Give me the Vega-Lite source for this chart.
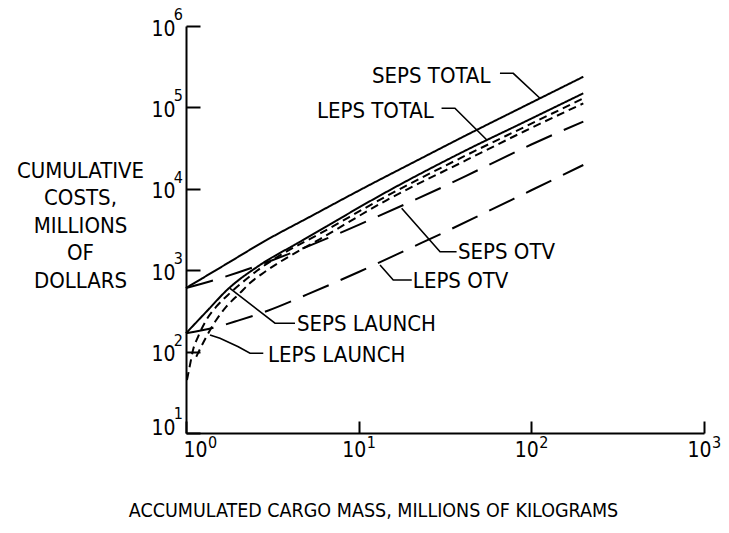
{
  "$schema": "https://vega.github.io/schema/vega-lite/v6.json",
  "autosize": {"type": "none"},
  "padding": {"left": 186, "top": 26, "right": 25, "bottom": 100},
  "width": 518,
  "height": 407,
  "background": "white",
  "config": {
    "view": {"stroke": null},
    "font": "DejaVu Sans Condensed, Liberation Sans, sans-serif",
    "axis": {
      "grid": false,
      "domainColor": "black",
      "domainWidth": 2,
      "tickColor": "black",
      "tickWidth": 2,
      "labelColor": "black",
      "titleColor": "black",
      "labelFont": "DejaVu Sans Condensed, Liberation Sans, sans-serif",
      "titleFont": "DejaVu Sans Condensed, Liberation Sans, sans-serif",
      "titleFontWeight": "normal",
      "labelFontSize": 21,
      "titleFontSize": 22,
      "labelOverlap": false,
      "labelFlush": false
    }
  },
  "datasets": {
    "curves": [
      {"series": "SEPS TOTAL", "style": "solid", "x": 1, "y": 604},
      {"series": "SEPS TOTAL", "style": "solid", "x": 1.705, "y": 1186},
      {"series": "SEPS TOTAL", "style": "solid", "x": 2.93, "y": 2350},
      {"series": "SEPS TOTAL", "style": "solid", "x": 5.22, "y": 4530},
      {"series": "SEPS TOTAL", "style": "solid", "x": 10.17, "y": 9660},
      {"series": "SEPS TOTAL", "style": "solid", "x": 22.6, "y": 23200},
      {"series": "SEPS TOTAL", "style": "solid", "x": 42.2, "y": 45800},
      {"series": "SEPS TOTAL", "style": "solid", "x": 91.8, "y": 104500},
      {"series": "SEPS TOTAL", "style": "solid", "x": 200, "y": 238000},
      {"series": "LEPS TOTAL", "style": "solid", "x": 1, "y": 168},
      {"series": "LEPS TOTAL", "style": "solid", "x": 1.323, "y": 315},
      {"series": "LEPS TOTAL", "style": "solid", "x": 1.727, "y": 571},
      {"series": "LEPS TOTAL", "style": "solid", "x": 2.683, "y": 1159},
      {"series": "LEPS TOTAL", "style": "solid", "x": 4.57, "y": 2228},
      {"series": "LEPS TOTAL", "style": "solid", "x": 15.18, "y": 9660},
      {"series": "LEPS TOTAL", "style": "solid", "x": 42.2, "y": 30000},
      {"series": "LEPS TOTAL", "style": "solid", "x": 91.8, "y": 66700},
      {"series": "LEPS TOTAL", "style": "solid", "x": 200, "y": 149000},
      {"series": "SEPS OTV", "style": "long", "x": 1, "y": 604},
      {"series": "SEPS OTV", "style": "long", "x": 1.5, "y": 770},
      {"series": "SEPS OTV", "style": "long", "x": 2, "y": 937},
      {"series": "SEPS OTV", "style": "long", "x": 3, "y": 1271},
      {"series": "SEPS OTV", "style": "long", "x": 5, "y": 1938},
      {"series": "SEPS OTV", "style": "long", "x": 7, "y": 2606},
      {"series": "SEPS OTV", "style": "long", "x": 10, "y": 3607},
      {"series": "SEPS OTV", "style": "long", "x": 20, "y": 6944},
      {"series": "SEPS OTV", "style": "long", "x": 30, "y": 10281},
      {"series": "SEPS OTV", "style": "long", "x": 50, "y": 17300},
      {"series": "SEPS OTV", "style": "long", "x": 100, "y": 35000},
      {"series": "SEPS OTV", "style": "long", "x": 200, "y": 67000},
      {"series": "LEPS OTV", "style": "long", "x": 1, "y": 168},
      {"series": "LEPS OTV", "style": "long", "x": 1.5, "y": 200},
      {"series": "LEPS OTV", "style": "long", "x": 2, "y": 240},
      {"series": "LEPS OTV", "style": "long", "x": 3, "y": 320},
      {"series": "LEPS OTV", "style": "long", "x": 5, "y": 500},
      {"series": "LEPS OTV", "style": "long", "x": 7, "y": 680},
      {"series": "LEPS OTV", "style": "long", "x": 10, "y": 950},
      {"series": "LEPS OTV", "style": "long", "x": 20, "y": 1880},
      {"series": "LEPS OTV", "style": "long", "x": 30, "y": 2800},
      {"series": "LEPS OTV", "style": "long", "x": 50, "y": 4700},
      {"series": "LEPS OTV", "style": "long", "x": 100, "y": 9600},
      {"series": "LEPS OTV", "style": "long", "x": 200, "y": 19600},
      {"series": "SEPS LAUNCH", "style": "short", "x": 1.013, "y": 44.8},
      {"series": "SEPS LAUNCH", "style": "short", "x": 1.05, "y": 65.3},
      {"series": "SEPS LAUNCH", "style": "short", "x": 1.098, "y": 104.6},
      {"series": "SEPS LAUNCH", "style": "short", "x": 1.174, "y": 152},
      {"series": "SEPS LAUNCH", "style": "short", "x": 1.311, "y": 244},
      {"series": "SEPS LAUNCH", "style": "short", "x": 1.497, "y": 356},
      {"series": "SEPS LAUNCH", "style": "short", "x": 1.791, "y": 520},
      {"series": "SEPS LAUNCH", "style": "short", "x": 2.09, "y": 690},
      {"series": "SEPS LAUNCH", "style": "short", "x": 2.587, "y": 991},
      {"series": "SEPS LAUNCH", "style": "short", "x": 3.5, "y": 1517},
      {"series": "SEPS LAUNCH", "style": "short", "x": 5.97, "y": 2820},
      {"series": "SEPS LAUNCH", "style": "short", "x": 14.58, "y": 8170},
      {"series": "SEPS LAUNCH", "style": "short", "x": 42.2, "y": 26000},
      {"series": "SEPS LAUNCH", "style": "short", "x": 91.8, "y": 57900},
      {"series": "SEPS LAUNCH", "style": "short", "x": 200, "y": 129000},
      {"series": "LEPS LAUNCH", "style": "short", "x": 1.147, "y": 86.5},
      {"series": "LEPS LAUNCH", "style": "short", "x": 1.311, "y": 152},
      {"series": "LEPS LAUNCH", "style": "short", "x": 1.497, "y": 244},
      {"series": "LEPS LAUNCH", "style": "short", "x": 1.712, "y": 356},
      {"series": "LEPS LAUNCH", "style": "short", "x": 2.046, "y": 520},
      {"series": "LEPS LAUNCH", "style": "short", "x": 2.338, "y": 690},
      {"series": "LEPS LAUNCH", "style": "short", "x": 2.829, "y": 938},
      {"series": "LEPS LAUNCH", "style": "short", "x": 3.5, "y": 1262},
      {"series": "LEPS LAUNCH", "style": "short", "x": 5.97, "y": 2415},
      {"series": "LEPS LAUNCH", "style": "short", "x": 14.58, "y": 7280},
      {"series": "LEPS LAUNCH", "style": "short", "x": 42.2, "y": 22600},
      {"series": "LEPS LAUNCH", "style": "short", "x": 91.8, "y": 51300},
      {"series": "LEPS LAUNCH", "style": "short", "x": 200, "y": 112000}
    ],
    "leaders": [
      {"leader": "SEPS TOTAL", "i": 0, "x": 65.8, "y": 262400},
      {"leader": "SEPS TOTAL", "i": 1, "x": 78.6, "y": 262400},
      {"leader": "SEPS TOTAL", "i": 2, "x": 112.2, "y": 129400},
      {"leader": "LEPS TOTAL", "i": 0, "x": 30.2, "y": 97500},
      {"leader": "LEPS TOTAL", "i": 1, "x": 36.1, "y": 97500},
      {"leader": "LEPS TOTAL", "i": 2, "x": 55.3, "y": 39800},
      {"leader": "SEPS OTV", "i": 0, "x": 36.9, "y": 1687},
      {"leader": "SEPS OTV", "i": 1, "x": 29.6, "y": 1687},
      {"leader": "SEPS OTV", "i": 2, "x": 17.74, "y": 5754},
      {"leader": "LEPS OTV", "i": 0, "x": 20.3, "y": 758},
      {"leader": "LEPS OTV", "i": 1, "x": 15.86, "y": 758},
      {"leader": "LEPS OTV", "i": 2, "x": 13.29, "y": 1159},
      {"leader": "SEPS LAUNCH", "i": 0, "x": 4.277, "y": 223},
      {"leader": "SEPS LAUNCH", "i": 1, "x": 3.276, "y": 223},
      {"leader": "SEPS LAUNCH", "i": 2, "x": 1.798, "y": 600},
      {"leader": "LEPS LAUNCH", "i": 0, "x": 2.803, "y": 95.3},
      {"leader": "LEPS LAUNCH", "i": 1, "x": 2.348, "y": 95.3},
      {"leader": "LEPS LAUNCH", "i": 2, "x": 2.008, "y": 114.8},
      {"leader": "LEPS LAUNCH", "i": 3, "x": 1.573, "y": 145.6},
      {"leader": "LEPS LAUNCH", "i": 4, "x": 1.377, "y": 160}
    ],
    "labels": [
      {"text": "SEPS TOTAL", "x": 11.94, "y": 199500},
      {"text": "LEPS TOTAL", "x": 5.735, "y": 74100},
      {"text": "SEPS OTV", "x": 37.6, "y": 1373},
      {"text": "LEPS OTV", "x": 20.6, "y": 604},
      {"text": "SEPS LAUNCH", "x": 4.393, "y": 179},
      {"text": "LEPS LAUNCH", "x": 2.985, "y": 74.5}
    ],
    "xexp": [
      {"v": 1, "e": "0"},
      {"v": 10, "e": "1"},
      {"v": 100, "e": "2"},
      {"v": 1000, "e": "3"}
    ],
    "yexp": [
      {"v": 10, "e": "1"},
      {"v": 100, "e": "2"},
      {"v": 1000, "e": "3"},
      {"v": 10000, "e": "4"},
      {"v": 100000, "e": "5"},
      {"v": 1000000, "e": "6"}
    ]
  },
  "layer": [
    {
      "data": {"name": "curves"},
      "mark": {"type": "line", "color": "black", "strokeWidth": 2, "interpolate": "monotone"},
      "encoding": {
        "x": {
          "field": "x", "type": "quantitative",
          "scale": {"type": "log", "domain": [1, 1000], "nice": false},
          "axis": {
            "values": [1, 10, 100, 1000],
            "labelExpr": "'10'",
            "tickSize": -12,
            "labelPadding": 18,
            "labelBaseline": "top",
            "labelAlign": "center",
            "labelOffset": {"condition": {"test": "datum.value <= 1", "value": 9}, "value": -5},
            "title": "ACCUMULATED CARGO MASS,  MILLIONS OF KILOGRAMS",
            "titleFontSize": 19.5,
            "titleX": 187,
            "titleY": 83,
            "titleAlign": "center",
            "titleAnchor": null,
            "titleBaseline": "alphabetic"
          }
        },
        "y": {
          "field": "y", "type": "quantitative",
          "scale": {"type": "log", "domain": [10, 1000000], "nice": false},
          "axis": {
            "values": [10, 100, 1000, 10000, 100000, 1000000],
            "labelExpr": "'10'",
            "tickSize": -14,
            "labelPadding": 25,
            "labelBaseline": "middle",
            "labelOffset": {"condition": {"test": "datum.value <= 10", "value": -5}, "value": 3},
            "title": ["CUMULATIVE", "COSTS,", "MILLIONS", "OF", "DOLLARS"],
            "titleAngle": 0,
            "titleX": -106,
            "titleY": 151,
            "titleAlign": "center",
            "titleAnchor": null,
            "titleBaseline": "alphabetic",
            "titleLineHeight": 27.5
          }
        },
        "detail": {"field": "series", "type": "nominal"},
        "strokeDash": {
          "field": "style", "type": "nominal",
          "scale": {"domain": ["solid", "long", "short"], "range": [[1, 0], [28, 13], [8, 5]]},
          "legend": null
        }
      }
    },
    {
      "data": {"name": "leaders"},
      "mark": {"type": "line", "color": "black", "strokeWidth": 1.6},
      "encoding": {
        "x": {"field": "x", "type": "quantitative"},
        "y": {"field": "y", "type": "quantitative"},
        "detail": {"field": "leader", "type": "nominal"},
        "order": {"field": "i", "type": "quantitative"}
      }
    },
    {
      "data": {"name": "labels"},
      "mark": {"type": "text", "align": "left", "baseline": "alphabetic", "fontSize": 22, "font": "DejaVu Sans Condensed, Liberation Sans, sans-serif", "color": "black"},
      "encoding": {
        "x": {"field": "x", "type": "quantitative"},
        "y": {"field": "y", "type": "quantitative"},
        "text": {"field": "text", "type": "nominal"}
      }
    },
    {
      "data": {"name": "xexp"},
      "transform": [{"filter": "datum.v > 1"}],
      "mark": {"type": "text", "align": "left", "baseline": "top", "fontSize": 16, "dx": 8, "dy": 2, "font": "DejaVu Sans Condensed, Liberation Sans, sans-serif", "color": "black"},
      "encoding": {
        "x": {"field": "v", "type": "quantitative"},
        "y": {"datum": 10, "type": "quantitative"},
        "text": {"field": "e", "type": "nominal"}
      }
    },
    {
      "data": {"name": "xexp"},
      "transform": [{"filter": "datum.v <= 1"}],
      "mark": {"type": "text", "align": "left", "baseline": "top", "fontSize": 16, "dx": 22, "dy": 2, "font": "DejaVu Sans Condensed, Liberation Sans, sans-serif", "color": "black"},
      "encoding": {
        "x": {"field": "v", "type": "quantitative"},
        "y": {"datum": 10, "type": "quantitative"},
        "text": {"field": "e", "type": "nominal"}
      }
    },
    {
      "data": {"name": "yexp"},
      "transform": [{"filter": "datum.v > 10"}],
      "mark": {"type": "text", "align": "right", "baseline": "top", "fontSize": 16, "dx": -3, "dy": -19, "font": "DejaVu Sans Condensed, Liberation Sans, sans-serif", "color": "black"},
      "encoding": {
        "x": {"datum": 1, "type": "quantitative"},
        "y": {"field": "v", "type": "quantitative"},
        "text": {"field": "e", "type": "nominal"}
      }
    },
    {
      "data": {"name": "yexp"},
      "transform": [{"filter": "datum.v <= 10"}],
      "mark": {"type": "text", "align": "right", "baseline": "top", "fontSize": 16, "dx": -3, "dy": -27, "font": "DejaVu Sans Condensed, Liberation Sans, sans-serif", "color": "black"},
      "encoding": {
        "x": {"datum": 1, "type": "quantitative"},
        "y": {"field": "v", "type": "quantitative"},
        "text": {"field": "e", "type": "nominal"}
      }
    }
  ]
}
